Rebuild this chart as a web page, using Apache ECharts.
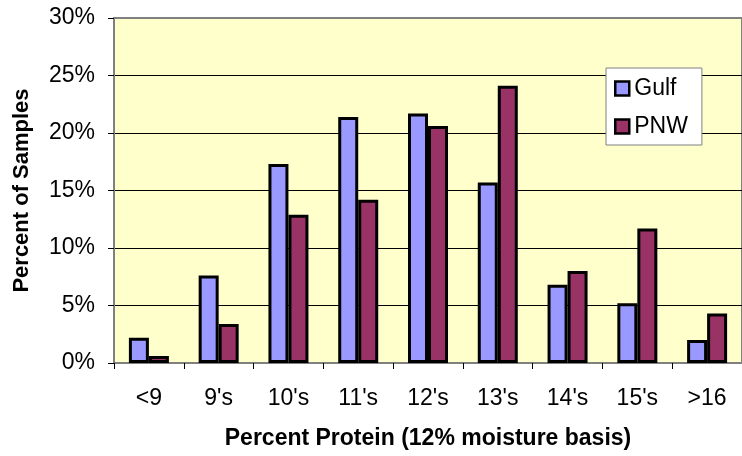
<!DOCTYPE html>
<html>
<head>
<meta charset="utf-8">
<script src="https://cdn.jsdelivr.net/npm/echarts@6/dist/echarts.min.js"></script>
<style>
html,body{margin:0;padding:0;background:#fff;}
#chart{width:742px;height:456px;}
</style>
</head>
<body>
<div id="chart"></div>
<script>
var categories = ["<9", "9's", "10's", "11's", "12's", "13's", "14's", "15's", ">16"];
var gulf = [2.2, 7.6, 17.3, 21.4, 21.7, 15.7, 6.8, 5.2, 2.0];
var pnw = [0.6, 3.4, 12.9, 14.2, 20.6, 24.1, 8.0, 11.7, 4.3];
var yTicks = [0, 5, 10, 15, 20, 25, 30];

var FONT = "'Liberation Sans', Arial, sans-serif";
var chart = echarts.init(document.getElementById('chart'), null, {renderer: 'canvas'});
chart.setOption({
  animation: false,
  backgroundColor: '#ffffff',
  textStyle: {fontFamily: FONT, color: '#000'},
  grid: {
    left: 114, right: -2, top: 18, bottom: 93,
    show: true, backgroundColor: '#FFFFCC', borderColor: '#808080', borderWidth: 2,
    containLabel: false
  },
  legend: {
    orient: 'vertical',
    left: 606, top: 68,
    backgroundColor: '#ffffff',
    borderColor: '#808080', borderWidth: 1,
    padding: [9, 14, 7, 8],
    itemWidth: 14, itemHeight: 14, itemGap: 15,
    icon: 'rect',
    itemStyle: {borderColor: '#000', borderWidth: 2.5},
    textStyle: {fontFamily: FONT, fontSize: 23, color: '#000'},
    data: ['Gulf', 'PNW']
  },
  xAxis: {
    type: 'category',
    data: categories,
    name: 'Percent Protein (12% moisture basis)',
    nameLocation: 'middle',
    nameGap: 64,
    nameTextStyle: {fontFamily: FONT, fontSize: 23, fontWeight: 'bold', color: '#000'},
    axisLine: {lineStyle: {color: '#808080', width: 2}},
    axisTick: {show: true, length: 6, lineStyle: {color: '#000', width: 1}},
    axisLabel: {fontFamily: FONT, fontSize: 23, color: '#000', margin: 24}
  },
  yAxis: {
    type: 'value',
    min: yTicks[0], max: yTicks[yTicks.length - 1], interval: 5,
    name: 'Percent of Samples',
    nameLocation: 'middle',
    nameGap: 81,
    nameTextStyle: {fontFamily: FONT, fontSize: 22, fontWeight: 'bold', color: '#000'},
    axisLine: {show: true, lineStyle: {color: '#808080', width: 2}},
    axisTick: {show: true, length: 6, lineStyle: {color: '#000', width: 1}},
    axisLabel: {fontFamily: FONT, fontSize: 23, color: '#000', margin: 19, formatter: '{value}%'},
    splitLine: {show: true, showMinLine: false, showMaxLine: false, lineStyle: {color: '#000', width: 1}}
  },
  series: [
    {
      name: 'Gulf', type: 'bar', data: gulf,
      barWidth: 20, barGap: '0%',
      itemStyle: {color: '#9999FF', borderColor: '#000', borderWidth: 3}
    },
    {
      name: 'PNW', type: 'bar', data: pnw,
      barWidth: 20, barGap: '0%',
      itemStyle: {color: '#993366', borderColor: '#000', borderWidth: 3}
    }
  ]
});
</script>
</body>
</html>
